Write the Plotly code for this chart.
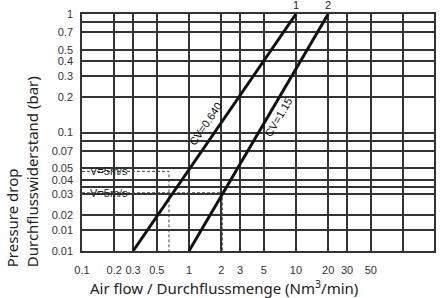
import numpy as np
import plotly.graph_objects as go

# ---------------- data ----------------
x_tick_vals = [0.1, 0.2, 0.3, 0.5, 1, 2, 3, 5, 10, 20, 30, 50]
y_tick_vals = [1, 0.7, 0.5, 0.4, 0.3, 0.2, 0.1, 0.07, 0.05, 0.04, 0.03, 0.02, 0.015, 0.01]
y_tick_labels = ["1", "0.7", "0.5", "0.4", "0.3", "0.2", "0.1", "0.07", "0.05", "0.04",
                 "0.03", "0.02", "0.01", "0.01"]

curve_ids = ["1", "2"]
curve_names = ["CV=0.640", "CV=1.15"]
curve_flow_low = [0.3, 1.0]      # Nm3/min at 0.01 bar
curve_flow_high = [10, 20]       # Nm3/min at 1 bar
curve_dp_low = 0.01
curve_dp_high = 1.0

v_label = "V=5m/s"
v_flow = [0.65, 2.05]            # Nm3/min
v_dp = [0.047, 0.031]            # bar

# ---------------- layout constants ----------------
X_RANGE = [-1.0, 2.29]
Y_RANGE = [-2.0, 0.0]
ML, MR, MT, MB = 82, 8, 14, 47
W, H = 442, 298
PW, PH = W - ML - MR, H - MT - MB
px_per_dec_x = PW / (X_RANGE[1] - X_RANGE[0])
px_per_dec_y = PH / (Y_RANGE[1] - Y_RANGE[0])

GRID = "#333333"
TICKFONT = dict(family="Liberation Sans, Arial, sans-serif", size=11, color="#333")
TITLEFONT = dict(family="Noto Sans, DejaVu Sans, sans-serif", size=15, color="#222")

fig = go.Figure()

# dashed helper lines
for f, d in zip(v_flow, v_dp):
    fig.add_trace(go.Scatter(
        x=[x_tick_vals[0], f, f], y=[d, d, y_tick_vals[-1]],
        mode="lines", line=dict(color="#444", width=1, dash="3px,2px"),
        hoverinfo="skip", showlegend=False))

# CV curves
for lo, hi in zip(curve_flow_low, curve_flow_high):
    fig.add_trace(go.Scatter(
        x=[lo, hi], y=[curve_dp_low, curve_dp_high],
        mode="lines", line=dict(color="#111", width=3),
        hoverinfo="skip", showlegend=False))

annotations = []
label_frac = [0.536, 0.565]
label_xshift = [-15, 11]
for cid, name, lo, hi, t, xs in zip(curve_ids, curve_names, curve_flow_low,
                                     curve_flow_high, label_frac, label_xshift):
    lx0, lx1 = np.log10(lo), np.log10(hi)
    ly0, ly1 = np.log10(curve_dp_low), np.log10(curve_dp_high)
    ang = np.degrees(np.arctan2((ly1 - ly0) * px_per_dec_y, (lx1 - lx0) * px_per_dec_x))
    annotations.append(dict(
        x=lx0 + t * (lx1 - lx0), y=ly0 + t * (ly1 - ly0), xref="x", yref="y",
        text=name, showarrow=False, textangle=-ang, xshift=xs,
        xanchor="center", yanchor="middle",
        font=dict(family="Liberation Sans, Arial, sans-serif", size=11, color="#111")))
    annotations.append(dict(
        x=lx1, y=ly1, xref="x", yref="y", text=cid, showarrow=False,
        xanchor="center", yanchor="bottom", yshift=1,
        font=dict(family="Liberation Sans, Arial, sans-serif", size=11, color="#222")))

for d in v_dp:
    annotations.append(dict(
        x=np.log10(x_tick_vals[0]), y=np.log10(d), xref="x", yref="y",
        text=v_label, showarrow=False, xanchor="left", yanchor="middle", xshift=6,
        font=dict(family="Liberation Sans, Arial, sans-serif", size=11, color="#222")))

annotations.append(dict(
    x=0.403, y=-0.152, xref="paper", yref="paper",
    xanchor="center", yanchor="middle",
    text="Air flow / Durchflussmenge (Nm<sup>3</sup>/min)", showarrow=False,
    font=TITLEFONT))
annotations.append(dict(
    x=-0.17, y=0.333, xref="paper", yref="paper",
    xanchor="center", yanchor="middle",
    text="Pressure drop<br>Durchflusswiderstand (bar)", showarrow=False,
    textangle=-90, align="left",
    font=TITLEFONT))

fig.update_layout(
    width=W, height=H,
    margin=dict(l=ML, r=MR, t=MT, b=MB),
    paper_bgcolor="white", plot_bgcolor="white",
    annotations=annotations,
    xaxis=dict(
        type="log", range=X_RANGE, tickmode="array",
        tickvals=x_tick_vals, ticktext=[f"{v:g}" for v in x_tick_vals],
        ticks="", showgrid=True, gridcolor=GRID, gridwidth=1.5,
        showline=True, linecolor="#333", linewidth=1.5, mirror=True,
        tickfont=TICKFONT, ticklabelstandoff=8,
        minor=dict(tickmode="array", tickvals=[100], showgrid=True,
                   gridcolor=GRID, gridwidth=1.5, ticks=""),
        zeroline=False, fixedrange=True, automargin=False),
    yaxis=dict(
        type="log", range=Y_RANGE, tickmode="array",
        tickvals=y_tick_vals, ticktext=y_tick_labels,
        ticks="", showgrid=True, gridcolor=GRID, gridwidth=1.5,
        showline=True, linecolor="#333", linewidth=1.5, mirror=True,
        tickfont=TICKFONT, ticklabelstandoff=5,
        minor=dict(tickmode="array", tickvals=[0.85, 0.085, 0.035], showgrid=True,
                   gridcolor=GRID, gridwidth=1.5, ticks=""),
        zeroline=False, fixedrange=True, automargin=False),
)

fig.write_html("out.html", config={"displayModeBar": False},
               post_script="document.body.style.margin='0';")
